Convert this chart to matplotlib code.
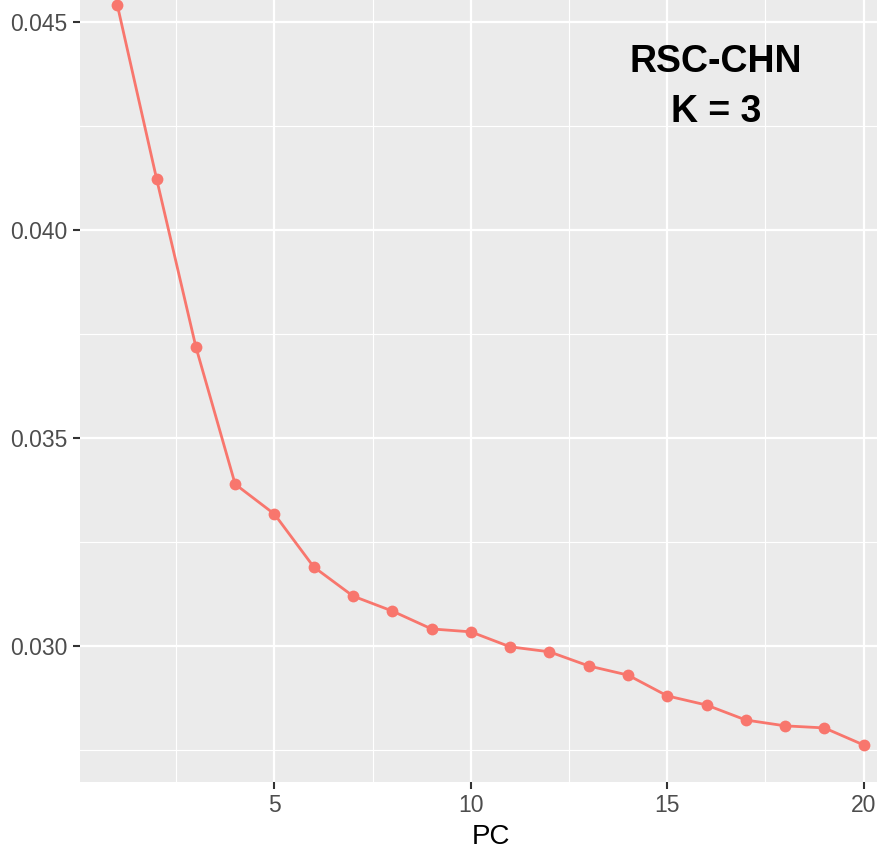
import numpy as np
import matplotlib.pyplot as plt

# values
pc = np.arange(1, 21)
variance = [0.04541, 0.04123, 0.03719, 0.03389, 0.03317, 0.03190, 0.03120, 0.03084,
            0.03041, 0.03034, 0.02998, 0.02986, 0.02952, 0.02930, 0.02880, 0.02858,
            0.02822, 0.02808, 0.02803, 0.02762]
xticks = [5, 10, 15, 20]
yticks = [0.030, 0.035, 0.040, 0.045]
label = "RSC-CHN\nK = 3"

plt.rcParams['font.family'] = ['Liberation Sans', 'DejaVu Sans']

fig = plt.figure(figsize=(8.77, 8.49), dpi=100)
# panel runs a little past the right edge of the image (cropped like the reference)
ax = fig.add_axes([80/877, 67/849, 821/877, 782/849])
ax.set_facecolor('#EBEBEB')

ax.set_xlim(0.05, 20.95)
ax.set_ylim(0.02673, 0.04553)

ax.set_xticks(xticks)
ax.set_yticks(yticks)
ax.set_yticklabels([f"{v:.3f}" for v in yticks])
ax.set_xticks([2.5, 7.5, 12.5, 17.5], minor=True)
ax.set_yticks([0.0275, 0.0325, 0.0375, 0.0425], minor=True)

ax.grid(which='major', color='white', linewidth=1.6)
ax.grid(which='minor', color='white', linewidth=0.8)
ax.set_axisbelow(True)
for s in ax.spines.values():
    s.set_visible(False)

ax.tick_params(which='major', length=5, width=1.5, color='#333333',
               labelsize=16.5, labelcolor='#4D4D4D', pad=4)
ax.tick_params(which='minor', length=0)

ax.plot(pc, variance, color='#F8766D', linewidth=2, marker='o',
        markersize=8.5, markeredgewidth=0, clip_on=False, zorder=3)

ax.text(16.24, 0.04345, label, ha='center', va='center', fontsize=27,
        fontweight='bold', linespacing=1.5)

ax.set_xlabel("PC", fontsize=20, labelpad=5)

plt.savefig('out.png', dpi=100)
